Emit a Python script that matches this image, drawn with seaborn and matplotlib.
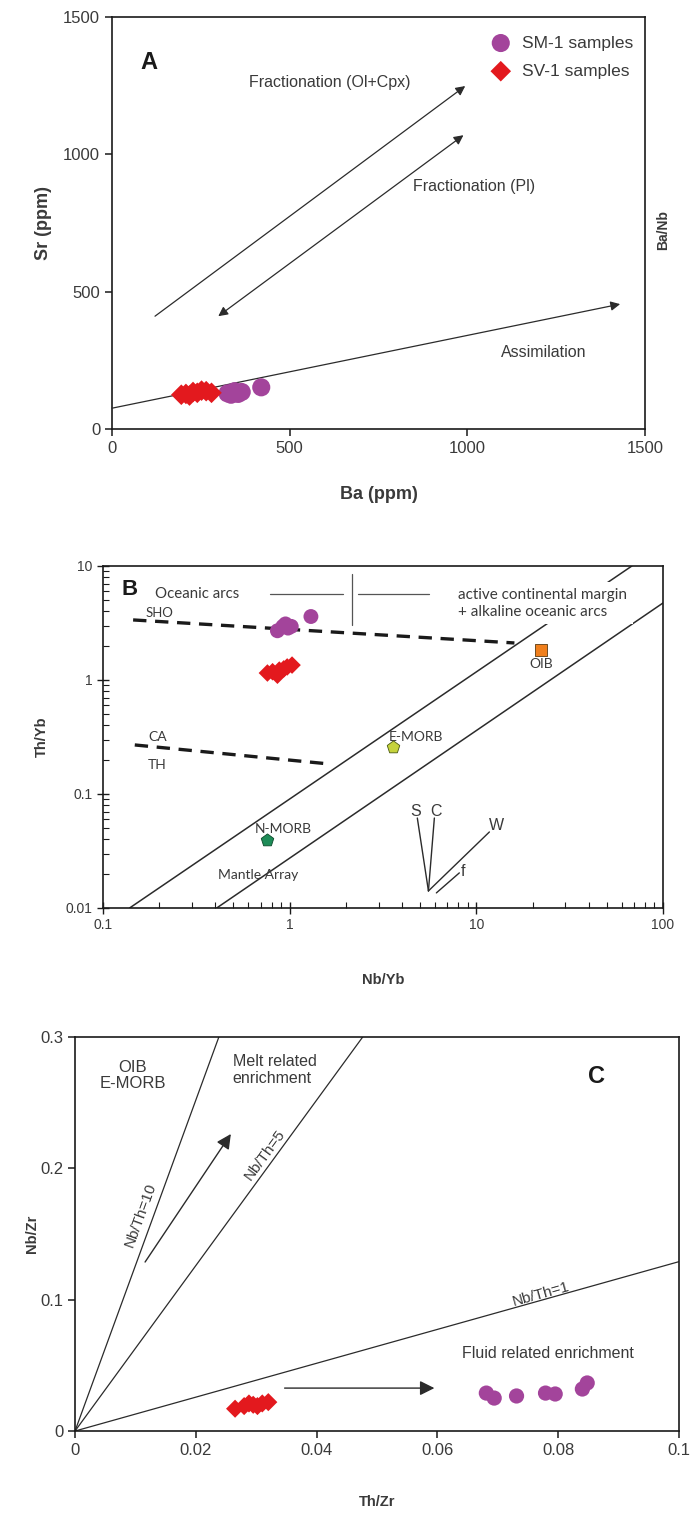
import numpy as np
import pandas as pd
import matplotlib
matplotlib.use("Agg")
import matplotlib.pyplot as plt
import seaborn as sns
from matplotlib.ticker import FixedLocator, LogLocator, NullFormatter

# ---------------- data ----------------
# Panel A: Sr vs Ba
a_sm1_ba = [325, 335, 345, 355, 365, 420]
a_sm1_sr = [130, 125, 138, 128, 135, 152]
a_sv1_ba = [195, 208, 218, 228, 240, 252, 265, 280]
a_sv1_sr = [125, 128, 122, 135, 132, 140, 138, 132]
a_ticks = [0, 500, 1000, 1500]

# Panel B: Th/Yb vs Nb/Yb
b_sm1_nb = [0.86, 0.92, 0.95, 0.98, 1.02, 1.30]
b_sm1_th = [2.7, 2.95, 3.1, 2.85, 2.95, 3.6]
b_sv1_nb = [0.76, 0.81, 0.86, 0.88, 0.93, 0.97, 1.03]
b_sv1_th = [1.15, 1.18, 1.10, 1.22, 1.25, 1.30, 1.35]
ref_names = ["OIB", "E-MORB", "N-MORB"]
ref_nb = [22.3, 3.56, 0.753]
ref_th = [1.83, 0.258, 0.0394]
b_xticks = [0.1, 1, 10, 100]
b_xlabels = ["0.1", "1", "10", "100"]
b_yticks = [0.01, 0.1, 1, 10]
b_ylabels = ["0.01", "0.1", "1", "10"]

# Panel C: Nb/Zr vs Th/Zr
c_sm1_th = [0.0681, 0.0694, 0.0731, 0.0779, 0.0795, 0.0840, 0.0848]
c_sm1_nb = [0.0289, 0.0251, 0.0267, 0.0289, 0.0282, 0.0320, 0.0366]
c_sv1_th = [0.0265, 0.0280, 0.0288, 0.0295, 0.0302, 0.0310, 0.0320]
c_sv1_nb = [0.0170, 0.0190, 0.0210, 0.0200, 0.0190, 0.0210, 0.0220]
c_line_names = ["Nb/Th=10", "Nb/Th=5", "Nb/Th=1"]
c_line_slopes = [12.6, 6.3, 1.29]
c_xticks = [0, 0.02, 0.04, 0.06, 0.08, 0.1]
c_xlabels = ["0", "0.02", "0.04", "0.06", "0.08", "0.1"]
c_yticks = [0, 0.1, 0.2, 0.3]
c_ylabels = ["0", "0.1", "0.2", "0.3"]

PURPLE = "#A3449B"
RED = "#E3191E"
TXT = "#3a3a3a"
LN = "#2b2b2b"

sns.set_theme(style="ticks")
plt.rcParams["font.family"] = ["Liberation Sans", "DejaVu Sans"]
plt.rcParams["axes.edgecolor"] = "#1a1a1a"
plt.rcParams["axes.linewidth"] = 1.2
plt.rcParams["text.color"] = TXT
plt.rcParams["xtick.color"] = "#1a1a1a"
plt.rcParams["ytick.color"] = "#1a1a1a"
plt.rcParams["xtick.labelcolor"] = TXT
plt.rcParams["ytick.labelcolor"] = TXT

fig = plt.figure(figsize=(6.94, 15.14), dpi=100)
axA = fig.add_axes([0.1614, 0.7166, 0.768, 0.2721])
axB = fig.add_axes([0.1484, 0.4003, 0.8069, 0.2259])
axC = fig.add_axes([0.1081, 0.0548, 0.8703, 0.2602])

CAL = ["Lato", "DejaVu Sans"]

def arrow(ax, start, end, style="-|>", lw=0.9, ms=14):
    ax.annotate("", xy=end, xytext=start,
                arrowprops=dict(arrowstyle=style, color=LN, lw=lw,
                                mutation_scale=ms, shrinkA=0, shrinkB=0))

# ---------------- Panel A ----------------
dfA_sm = pd.DataFrame({"Ba": a_sm1_ba, "Sr": a_sm1_sr})
dfA_sv = pd.DataFrame({"Ba": a_sv1_ba, "Sr": a_sv1_sr})
sns.scatterplot(data=dfA_sm, x="Ba", y="Sr", ax=axA, color=PURPLE, marker="o",
                s=170, edgecolor="none", label="SM-1 samples", zorder=4)
sns.scatterplot(data=dfA_sv, x="Ba", y="Sr", ax=axA, color=RED, marker="D",
                s=110, edgecolor="none", label="SV-1 samples", zorder=4)
axA.set_xlim(0, 1500)
axA.set_ylim(0, 1500)
axA.xaxis.set_major_locator(FixedLocator(a_ticks))
axA.yaxis.set_major_locator(FixedLocator(a_ticks))
axA.tick_params(direction="out", length=5, width=1.1, labelsize=12)
axA.set_xlabel("Ba (ppm)", fontsize=13, fontweight="bold", labelpad=22, color=TXT)
axA.set_ylabel("Sr (ppm)", fontsize=13, fontweight="bold", labelpad=8, color=TXT)

arrow(axA, (0, 76), (1430, 455))
arrow(axA, (121, 411), (994, 1249))
arrow(axA, (299, 411), (989, 1070), style="<|-|>")
axA.text(614, 1263, "Fractionation (Ol+Cpx)", fontsize=11.5, ha="center", va="center")
axA.text(1020, 885, "Fractionation (Pl)", fontsize=11.5, ha="center", va="center")
axA.text(1214, 280, "Assimilation", fontsize=11.5, ha="center", va="center")
axA.text(80, 1335, "A", fontsize=17, fontweight="bold", ha="left", va="center", color="#1a1a1a")
leg = axA.legend(loc="upper right", bbox_to_anchor=(1.0, 0.985), frameon=False,
                 fontsize=12.5, handletextpad=0.2, labelspacing=0.75, borderaxespad=0.3)
for t in leg.get_texts():
    t.set_color(TXT)

fig.text(663 / 694, 1 - 230 / 1514, "Ba/Nb", rotation=90, fontsize=10,
         fontweight="bold", ha="center", va="center", color=TXT)

# ---------------- Panel B ----------------
axB.set_xscale("log")
axB.set_yscale("log")
axB.set_xlim(0.1, 100)
axB.set_ylim(0.01, 10)

# mantle array boundaries
axB.plot([0.139, 68.2], [0.01, 10], color=LN, lw=1.1, zorder=1)
axB.plot([0.407, 100], [0.01, 4.73], color=LN, lw=1.1, zorder=1)
# dashed divisions
axB.plot([0.145, 16.0], [3.36, 2.11], color="#1a1a1a", lw=2.4, ls=(0, (4, 2.6)), zorder=2)
axB.plot([0.148, 1.64], [0.269, 0.183], color="#1a1a1a", lw=2.4, ls=(0, (4, 2.6)), zorder=2)
# arc divider
axB.plot([0.782, 1.92], [5.68, 5.68], color="#555", lw=0.9)
axB.plot([2.31, 5.61], [5.68, 5.68], color="#555", lw=0.9)
axB.plot([2.15, 2.15], [3.03, 8.5], color="#555", lw=0.9)

dfB_sm = pd.DataFrame({"Nb": b_sm1_nb, "Th": b_sm1_th})
dfB_sv = pd.DataFrame({"Nb": b_sv1_nb, "Th": b_sv1_th})
sns.scatterplot(data=dfB_sm, x="Nb", y="Th", ax=axB, color=PURPLE, marker="o",
                s=115, edgecolor="none", zorder=4, legend=False)
sns.scatterplot(data=dfB_sv, x="Nb", y="Th", ax=axB, color=RED, marker="D",
                s=80, edgecolor="none", zorder=4, legend=False)
dfRef = pd.DataFrame({"Nb": ref_nb, "Th": ref_th, "name": ref_names})
sns.scatterplot(data=dfRef.iloc[[0]], x="Nb", y="Th", ax=axB, color="#F07F1C", marker="s",
                s=70, edgecolor="#5a3a10", linewidth=0.6, zorder=5, legend=False)
sns.scatterplot(data=dfRef.iloc[[1]], x="Nb", y="Th", ax=axB, color="#C5D33C", marker="p",
                s=90, edgecolor="#4a5a10", linewidth=0.6, zorder=5, legend=False)
sns.scatterplot(data=dfRef.iloc[[2]], x="Nb", y="Th", ax=axB, color="#1E8C58", marker="p",
                s=90, edgecolor="#0c4a2a", linewidth=0.6, zorder=5, legend=False)

axB.text(22.3, 1.38, "OIB", family=CAL, fontsize=10, ha="center", va="center")
axB.text(3.4, 0.316, "E-MORB", family=CAL, fontsize=10, ha="left", va="center")
axB.text(0.65, 0.0493, "N-MORB", family=CAL, fontsize=10, ha="left", va="center")
axB.text(0.412, 0.0195, "Mantle Array", family=CAL, fontsize=10, ha="left", va="center")
axB.text(0.126, 6.16, "B", fontsize=16, fontweight="bold", ha="left", va="center", color="#1a1a1a")
axB.text(0.19, 5.7, "Oceanic arcs", family=CAL, fontsize=10.8, ha="left", va="center")
axB.text(8.0, 4.7, "active continental margin\n+ alkaline oceanic arcs", family=CAL,
         fontsize=11, ha="left", va="center", linespacing=1.3, zorder=6,
         bbox=dict(facecolor="white", edgecolor="none", pad=4))
axB.text(0.168, 3.87, "SHO", family=CAL, fontsize=9.5, ha="left", va="center")
axB.text(0.174, 0.316, "CA", family=CAL, fontsize=10, ha="left", va="center")
axB.text(0.174, 0.179, "TH", family=CAL, fontsize=10, ha="left", va="center")

# process vectors
axB.plot([5.54, 4.83], [0.0141, 0.0615], color=LN, lw=1.0)
axB.plot([5.54, 5.96], [0.0141, 0.0615], color=LN, lw=1.0)
axB.plot([5.54, 11.75], [0.0141, 0.0464], color=LN, lw=1.0)
axB.plot([6.11, 8.11], [0.01355, 0.0203], color=LN, lw=1.0)
axB.text(4.75, 0.0695, "S", fontsize=11.5, ha="center", va="center")
axB.text(6.1, 0.0695, "C", fontsize=11.5, ha="center", va="center")
axB.text(12.9, 0.0525, "W", fontsize=11.5, ha="center", va="center")
axB.text(8.5, 0.0207, "f", fontsize=11.5, ha="center", va="center")

axB.xaxis.set_major_locator(FixedLocator(b_xticks))
axB.yaxis.set_major_locator(FixedLocator(b_yticks))
axB.set_xticklabels(b_xlabels)
axB.set_yticklabels(b_ylabels)
axB.xaxis.set_minor_locator(LogLocator(base=10, subs=np.arange(2, 10)))
axB.yaxis.set_minor_locator(LogLocator(base=10, subs=np.arange(2, 10)))
axB.xaxis.set_minor_formatter(NullFormatter())
axB.yaxis.set_minor_formatter(NullFormatter())
axB.tick_params(which="major", direction="inout", length=8, width=1.0, labelsize=10)
axB.tick_params(which="minor", direction="in", length=4, width=0.8)
axB.set_xlabel("Nb/Yb", fontsize=10.5, fontweight="bold", labelpad=29, color=TXT)
axB.set_ylabel("Th/Yb", fontsize=10.5, fontweight="bold", labelpad=12, color=TXT)

# ---------------- Panel C ----------------
axC.set_xlim(0, 0.1)
axC.set_ylim(0, 0.3)
for slope in c_line_slopes:
    xe = min(0.1, 0.3 / slope)
    axC.plot([0, xe], [0, slope * xe], color=LN, lw=0.9, zorder=1)

axC.text(0.0109, 0.1645, c_line_names[0], fontsize=11, rotation=69.9, ha="center", va="center")
axC.text(0.0314, 0.2100, c_line_names[1], fontsize=11, rotation=53.8, ha="center", va="center")
axC.text(0.0772, 0.1043, c_line_names[2], fontsize=11, rotation=15.6, ha="center", va="center")

arrow(axC, (0.0116, 0.1287), (0.0258, 0.2262), lw=1.0, ms=22)
arrow(axC, (0.0347, 0.0327), (0.0595, 0.0327), lw=1.0, ms=22)

dfC_sm = pd.DataFrame({"Th": c_sm1_th, "Nb": c_sm1_nb})
dfC_sv = pd.DataFrame({"Th": c_sv1_th, "Nb": c_sv1_nb})
sns.scatterplot(data=dfC_sm, x="Th", y="Nb", ax=axC, color=PURPLE, marker="o",
                s=120, edgecolor="none", zorder=4, legend=False)
sns.scatterplot(data=dfC_sv, x="Th", y="Nb", ax=axC, color=RED, marker="D",
                s=85, edgecolor="none", zorder=4, legend=False)

axC.text(0.0096, 0.271, "OIB\nE-MORB", fontsize=12, ha="center", va="center", linespacing=1.1)
axC.text(0.0261, 0.275, "Melt related\nenrichment", fontsize=11.5, ha="left", va="center", linespacing=1.15)
axC.text(0.0641, 0.0594, "Fluid related enrichment", fontsize=11.5, ha="left", va="center")
axC.text(0.0863, 0.270, "C", fontsize=17, fontweight="bold", ha="center", va="center", color="#1a1a1a")

axC.xaxis.set_major_locator(FixedLocator(c_xticks))
axC.yaxis.set_major_locator(FixedLocator(c_yticks))
axC.set_xticklabels(c_xlabels)
axC.set_yticklabels(c_ylabels)
axC.tick_params(direction="out", length=5, width=1.1, labelsize=12)
axC.set_xlabel("Th/Zr", fontsize=10.5, fontweight="bold", labelpad=27, color=TXT)
axC.set_ylabel("Nb/Zr", fontsize=10.5, fontweight="bold", labelpad=1, color=TXT)

fig.savefig("out.png", dpi=100)
